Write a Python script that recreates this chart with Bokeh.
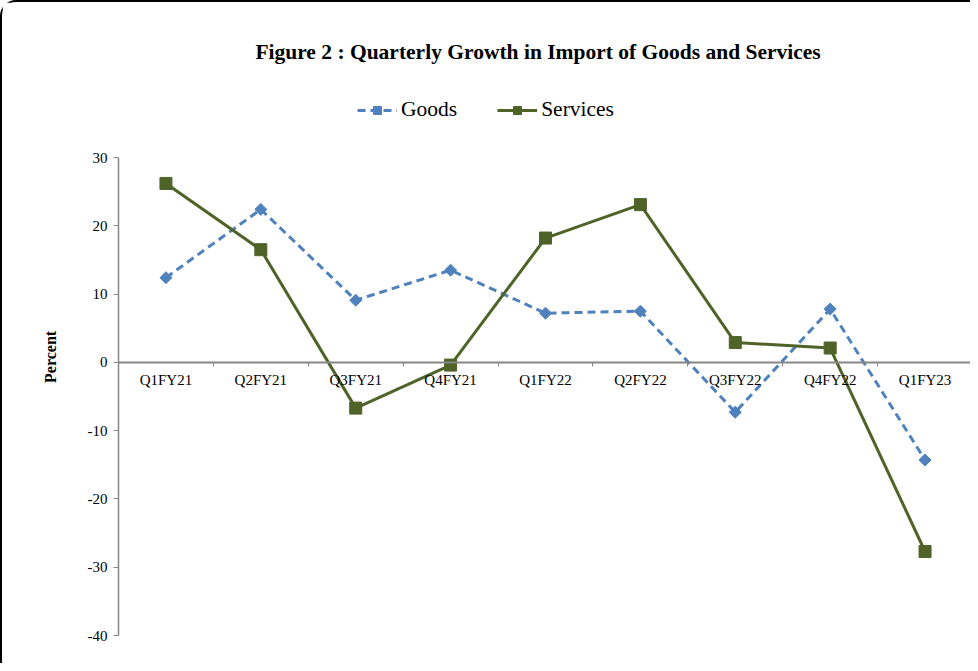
import math
from bokeh.plotting import figure
from bokeh.models import (Range1d, LinearAxis, FixedTicker, Legend, LegendItem, Label,
                          ColumnDataSource)
from bokeh.embed import file_html
from bokeh.resources import INLINE

categories = ["Q1FY21", "Q2FY21", "Q3FY21", "Q4FY21", "Q1FY22", "Q2FY22",
              "Q3FY22", "Q4FY22", "Q1FY23"]
goods = [12.4, 22.4, 9.1, 13.5, 7.2, 7.5, -7.3, 7.8, -14.3]
services = [26.2, 16.5, -6.7, -0.4, 18.2, 23.1, 2.9, 2.1, -27.7]
y_ticks = [-40, -30, -20, -10, 0, 10, 20, 30]
y_tick_labels = ["-40", "-30", "-20", "-10", "0", "10", "20", "30"]
title_text = "Figure 2 : Quarterly Growth in Import  of Goods and Services"
y_title = "Percent"

SERIF = "Liberation Serif"
W, H = 970, 663
TOP, BOTTOM, LEFT = 28, 30, 116
PX_PER_UNIT = 478 / 70.0
Y_MIN, Y_AXIS_MAX = -40, 30
y_top = Y_MIN + (H - TOP - BOTTOM) / PX_PER_UNIT
Y_TITLE_POS = 0.8

xs = list(range(1, len(categories) + 1))
src = ColumnDataSource(dict(x=xs, goods=goods, services=services))

p = figure(width=W, height=H, output_backend="svg", toolbar_location=None,
           x_range=Range1d(0.5, len(categories) + 0.5), y_range=Range1d(Y_MIN, y_top),
           x_axis_location=None, y_axis_location="left",
           min_border_left=LEFT, min_border_right=0, min_border_top=TOP,
           min_border_bottom=BOTTOM)
p.outline_line_color = None
p.grid.visible = False
p.background_fill_color = "white"
p.border_fill_color = "white"
p.styles = {"border-top": "2px solid black", "border-left": "2px solid black",
            "border-top-left-radius": "16px"}

# y axis (line, ticks, labels)
ya = p.yaxis[0]
ya.bounds = (Y_MIN, Y_AXIS_MAX)
ya.ticker = FixedTicker(ticks=y_ticks)
ya.major_label_overrides = {t: l for t, l in zip(y_ticks, y_tick_labels)}
ya.axis_line_color = "#868686"
ya.axis_line_width = 1.5
ya.major_tick_line_color = "#868686"
ya.major_tick_out = 5
ya.major_tick_in = 0
ya.minor_tick_line_color = None
ya.major_label_text_font = SERIF
ya.major_label_text_font_size = "15px"
ya.major_label_text_color = "black"
ya.major_label_standoff = 6

# second y axis carrying the "Percent" title as a rotated label
ya2 = LinearAxis(ticker=FixedTicker(ticks=[Y_TITLE_POS]))
ya2.major_label_overrides = {Y_TITLE_POS: y_title}
ya2.major_label_orientation = "vertical"
ya2.axis_line_color = None
ya2.major_tick_line_color = None
ya2.minor_tick_line_color = None
ya2.major_tick_out = 0
ya2.major_tick_in = 0
ya2.major_label_standoff = 25
ya2.major_label_text_font = SERIF
ya2.major_label_text_font_style = "bold"
ya2.major_label_text_font_size = "16px"
ya2.major_label_text_color = "black"
p.add_layout(ya2, "left")

# x axis at zero: boundary ticks
bticks = [i + 0.5 for i in range(len(categories) + 1)]
xa1 = LinearAxis(fixed_location=0, ticker=FixedTicker(ticks=bticks))
xa1.major_label_overrides = {t: "" for t in bticks}
xa1.axis_line_color = "#868686"
xa1.axis_line_width = 2
xa1.major_tick_line_color = "#868686"
xa1.major_tick_out = 4
xa1.major_tick_in = 0
xa1.minor_tick_line_color = None
p.add_layout(xa1, "below")

# category labels
xa2 = LinearAxis(fixed_location=0, ticker=FixedTicker(ticks=xs))
xa2.major_label_overrides = {x: c for x, c in zip(xs, categories)}
xa2.axis_line_color = None
xa2.major_tick_line_color = None
xa2.minor_tick_line_color = None
xa2.major_tick_out = 0
xa2.major_tick_in = 0
xa2.major_label_standoff = 10
xa2.major_label_text_font = SERIF
xa2.major_label_text_font_size = "15px"
xa2.major_label_text_color = "black"
p.add_layout(xa2, "below")

GOODS_C = "#4F81BD"
SERV_C = "#4F6228"
gl = p.line("x", "goods", source=src, line_color=GOODS_C, line_width=3, line_dash="8 5")
gm = p.scatter("x", "goods", source=src, marker="square", size=8.5, angle=math.pi / 4,
               fill_color=GOODS_C, line_color=GOODS_C)
sl = p.line("x", "services", source=src, line_color=SERV_C, line_width=3)
sm = p.scatter("x", "services", source=src, marker="square", size=12,
               fill_color=SERV_C, line_color=SERV_C)

legend = Legend(items=[LegendItem(label="Goods", renderers=[gl, gm]),
                       LegendItem(label="Services", renderers=[sl, sm])],
                orientation="horizontal", location=(239, 513),
                label_text_font=SERIF, label_text_font_size="21.5px",
                label_text_color="black", glyph_width=40, glyph_height=20,
                label_standoff=4, spacing=40, padding=0, margin=0,
                border_line_color=None, background_fill_alpha=0)
p.add_layout(legend, "center")

title = Label(x=4.95, y=Y_AXIS_MAX + (163 - 57) / PX_PER_UNIT, text=title_text,
              text_align="center", text_baseline="middle", text_font=SERIF,
              text_font_style="bold", text_font_size="21.5px", text_color="black")
p.add_layout(title)

open("out.html", "w").write(file_html(p, INLINE))
